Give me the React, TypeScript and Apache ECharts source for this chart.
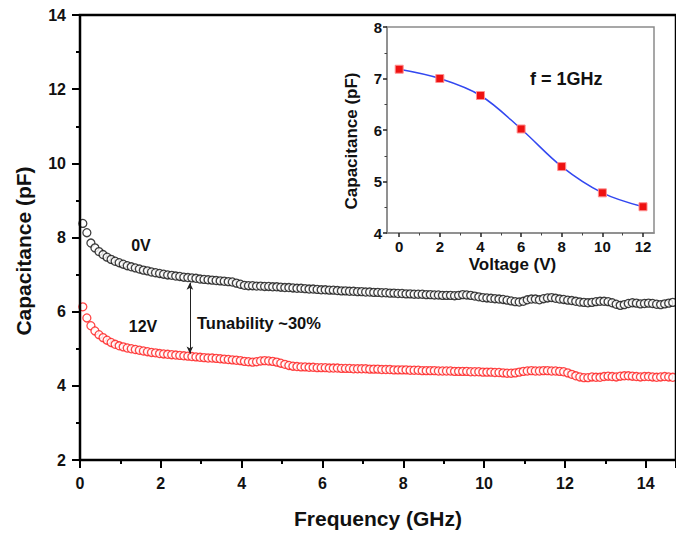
import React, { useEffect, useRef } from 'react';
import * as echarts from 'echarts';

const freqGHz = [
  0.07, 0.17, 0.27, 0.37, 0.47, 0.57, 0.67, 0.77, 0.87, 0.97,
  1.07, 1.17, 1.27, 1.37, 1.47, 1.57, 1.67, 1.77, 1.87, 1.97,
  2.07, 2.17, 2.27, 2.37, 2.47, 2.57, 2.67, 2.77, 2.87, 2.97,
  3.07, 3.17, 3.27, 3.37, 3.47, 3.57, 3.67, 3.77, 3.87, 3.97,
  4.07, 4.17, 4.27, 4.37, 4.47, 4.57, 4.67, 4.77, 4.87, 4.97,
  5.07, 5.17, 5.27, 5.37, 5.47, 5.57, 5.67, 5.77, 5.87, 5.97,
  6.07, 6.17, 6.27, 6.37, 6.47, 6.57, 6.67, 6.77, 6.87, 6.97,
  7.07, 7.17, 7.27, 7.37, 7.47, 7.57, 7.67, 7.77, 7.87, 7.97,
  8.07, 8.17, 8.27, 8.37, 8.47, 8.57, 8.67, 8.77, 8.87, 8.97,
  9.07, 9.17, 9.27, 9.37, 9.47, 9.57, 9.67, 9.77, 9.87, 9.97,
  10.07, 10.17, 10.27, 10.37, 10.47, 10.57, 10.67, 10.77, 10.87, 10.97,
  11.07, 11.17, 11.27, 11.37, 11.47, 11.57, 11.67, 11.77, 11.87, 11.97,
  12.07, 12.17, 12.27, 12.37, 12.47, 12.57, 12.67, 12.77, 12.87, 12.97,
  13.07, 13.17, 13.27, 13.37, 13.47, 13.57, 13.67, 13.77, 13.87, 13.97,
  14.07, 14.17, 14.27, 14.37, 14.47, 14.57, 14.67, 14.77,
];

const cap0V = [
  8.38, 8.13, 7.85, 7.72, 7.62, 7.54, 7.47, 7.41, 7.36, 7.32,
  7.28, 7.24, 7.21, 7.18, 7.15, 7.12, 7.10, 7.07, 7.05, 7.03,
  7.01, 6.99, 6.98, 6.96, 6.95, 6.93, 6.92, 6.91, 6.90, 6.88,
  6.87, 6.86, 6.85, 6.84, 6.83, 6.82, 6.81, 6.80, 6.77, 6.74,
  6.71, 6.70, 6.70, 6.69, 6.69, 6.68, 6.68, 6.67, 6.67, 6.66,
  6.65, 6.65, 6.64, 6.63, 6.63, 6.62, 6.61, 6.61, 6.60, 6.59,
  6.59, 6.58, 6.58, 6.57, 6.56, 6.56, 6.55, 6.55, 6.54, 6.54,
  6.53, 6.53, 6.52, 6.52, 6.51, 6.51, 6.50, 6.50, 6.49, 6.49,
  6.48, 6.48, 6.47, 6.47, 6.47, 6.46, 6.46, 6.45, 6.45, 6.44,
  6.44, 6.44, 6.43, 6.44, 6.46, 6.45, 6.44, 6.42, 6.40, 6.38,
  6.37, 6.36, 6.35, 6.34, 6.33, 6.31, 6.29, 6.27, 6.26, 6.28,
  6.32, 6.34, 6.34, 6.32, 6.35, 6.37, 6.38, 6.36, 6.34, 6.33,
  6.31, 6.30, 6.28, 6.26, 6.25, 6.24, 6.25, 6.27, 6.28, 6.28,
  6.27, 6.24, 6.20, 6.17, 6.19, 6.22, 6.24, 6.23, 6.21, 6.22,
  6.23, 6.22, 6.20, 6.19, 6.21, 6.23, 6.25, 6.24,
];

const cap12V = [
  6.13, 5.83, 5.62, 5.48, 5.38, 5.30, 5.23, 5.17, 5.12, 5.08,
  5.05, 5.02, 5.00, 4.98, 4.96, 4.94, 4.92, 4.90, 4.89, 4.87,
  4.86, 4.85, 4.84, 4.83, 4.82, 4.81, 4.80, 4.79, 4.78, 4.77,
  4.76, 4.75, 4.75, 4.74, 4.73, 4.72, 4.71, 4.70, 4.69, 4.68,
  4.66, 4.65, 4.64, 4.65, 4.67, 4.68, 4.67, 4.66, 4.64, 4.61,
  4.58, 4.55, 4.53, 4.52, 4.51, 4.51, 4.50, 4.50, 4.49, 4.49,
  4.49, 4.48, 4.48, 4.48, 4.47, 4.47, 4.47, 4.46, 4.46, 4.46,
  4.46, 4.45, 4.45, 4.45, 4.44, 4.44, 4.44, 4.43, 4.43, 4.43,
  4.43, 4.42, 4.42, 4.42, 4.41, 4.41, 4.41, 4.41, 4.40, 4.40,
  4.40, 4.40, 4.39, 4.39, 4.39, 4.39, 4.38, 4.38, 4.38, 4.37,
  4.37, 4.37, 4.36, 4.36, 4.35, 4.34, 4.34, 4.35, 4.37, 4.39,
  4.40, 4.41, 4.40, 4.40, 4.41, 4.41, 4.40, 4.40, 4.39, 4.38,
  4.35, 4.31, 4.27, 4.24, 4.22, 4.22, 4.24, 4.23, 4.23, 4.25,
  4.26, 4.25, 4.24, 4.26, 4.27, 4.27, 4.26, 4.25, 4.24, 4.25,
  4.25, 4.24, 4.23, 4.24, 4.25, 4.24, 4.23, 4.24,
];

const voltages = [0, 2, 4, 6, 8, 10, 12];
const capAt1GHz = [7.18, 7.0, 6.67, 6.02, 5.29, 4.78, 4.51];
const insetMinorX = [1, 3, 5, 7, 9, 11];
const mainMinorY = [3, 5, 7, 9, 11, 13];
const arrowFreq = 2.72;
const arrowTop = 6.78;
const arrowBottom = 4.87;

const FONT = '"Liberation Sans", Arial, Helvetica, sans-serif';
const INK = '#111111';
const FRAME = '#8a8a8a';

export default function App() {
  const ref = useRef<HTMLDivElement>(null);

  useEffect(() => {
    if (!ref.current) return;
    const chart = echarts.init(ref.current, null, { renderer: 'svg' });

    const label = (size: number, extra: any = {}) => ({
      fontFamily: FONT,
      fontWeight: 'bold',
      fontSize: size,
      color: INK,
      ...extra,
    });

    const insetRect = { left: 387, right: 22, top: 27, bottom: 302 };
    const mainRect = { left: 80, right: 0, top: 15, bottom: 75 };
    const tickStyle = { color: '#000', width: 2, opacity: 1 };

    const option: any = {
      animation: false,
      backgroundColor: '#ffffff',
      grid: [
        { ...mainRect, containLabel: false },
        {
          ...insetRect,
          show: true,
          backgroundColor: '#ffffff',
          borderColor: FRAME,
          borderWidth: 1.5,
          z: 5,
        },
        { ...insetRect, show: false },
        { left: 80, right: -20, top: 15, bottom: 75, show: true, borderColor: '#000', borderWidth: 2.5, backgroundColor: 'transparent', z: 9 },
      ],
      xAxis: [
        {
          gridIndex: 0,
          type: 'value',
          min: 0,
          max: 14.75,
          interval: 2,
          position: 'bottom',
          name: 'Frequency (GHz)',
          nameLocation: 'middle',
          nameGap: 48,
          nameTextStyle: label(21),
          axisLine: { show: false, onZero: false },
          axisTick: { show: true, length: 8, lineStyle: tickStyle },
          minorTick: { show: true, splitNumber: 2, length: 4, lineStyle: tickStyle },
          axisLabel: { ...label(16), margin: 15, showMaxLabel: false },
          splitLine: { show: false },
          minorSplitLine: { show: false },
        },
        {
          gridIndex: 1,
          type: 'value',
          min: -0.6,
          max: 12.54,
          position: 'bottom',
          name: 'Voltage (V)',
          nameLocation: 'middle',
          nameGap: 23,
          nameTextStyle: { ...label(17), padding: [0, 16, 0, 0] },
          axisLine: { show: true, onZero: false, lineStyle: { color: FRAME, width: 1.5 } },
          axisTick: { show: true, length: 4, customValues: voltages, lineStyle: { color: '#222', width: 1.5 } },
          axisLabel: { ...label(15), margin: 6, customValues: voltages },
          splitLine: { show: false },
          z: 6,
        },
        {
          gridIndex: 2,
          type: 'value',
          min: -0.6,
          max: 12.54,
          position: 'bottom',
          axisLine: { show: false },
          axisTick: { show: true, length: 2.5, customValues: insetMinorX, lineStyle: { color: '#444', width: 1 } },
          axisLabel: { show: false },
          splitLine: { show: false },
          z: 7,
        },
        {
          gridIndex: 3,
          type: 'value',
          min: 0,
          max: 15,
          show: false,
        },
      ],
      yAxis: [
        {
          gridIndex: 0,
          type: 'value',
          min: 2,
          max: 14,
          interval: 2,
          axisLine: { show: false, onZero: false },
          axisTick: { show: true, length: 8, lineStyle: tickStyle },
          axisLabel: { ...label(16), margin: 14 },
          splitLine: { show: false },
        },
        {
          gridIndex: 1,
          type: 'value',
          min: 4,
          max: 8,
          interval: 1,
          axisLine: { show: true, onZero: false, lineStyle: { color: FRAME, width: 1.5 } },
          axisTick: { show: true, length: 4, lineStyle: { color: '#222', width: 1.5 } },
          minorTick: { show: true, splitNumber: 2, length: 2.5, lineStyle: { color: '#444', width: 1 } },
          axisLabel: { ...label(15), margin: 5 },
          splitLine: { show: false },
          minorSplitLine: { show: false },
          z: 6,
        },
        {
          gridIndex: 2,
          type: 'value',
          min: 4,
          max: 8,
          show: false,
        },
        {
          gridIndex: 3,
          type: 'value',
          min: 2,
          max: 14,
          position: 'left',
          axisLine: { show: false },
          axisTick: { show: true, length: 4, customValues: mainMinorY, lineStyle: tickStyle },
          axisLabel: { show: false },
          splitLine: { show: false },
        },
      ],
      series: [
        {
          name: '0V',
          type: 'scatter',
          xAxisIndex: 0,
          yAxisIndex: 0,
          symbol: 'circle',
          symbolSize: 8,
          itemStyle: { color: '#ffffff', borderColor: '#111111', borderWidth: 1.3 },
          data: freqGHz.map((f, i) => [f, cap0V[i]]),
          markLine: {
            silent: true,
            symbol: ['arrow', 'arrow'],
            symbolSize: [5, 7],
            label: { show: false },
            lineStyle: { color: '#222', width: 1, type: 'solid' },
            data: [[{ coord: [arrowFreq, arrowTop] }, { coord: [arrowFreq, arrowBottom] }]],
          },
        },
        {
          name: '12V',
          type: 'scatter',
          xAxisIndex: 0,
          yAxisIndex: 0,
          symbol: 'circle',
          symbolSize: 8,
          itemStyle: { color: '#ffffff', borderColor: '#ff1a1a', borderWidth: 1.3 },
          data: freqGHz.map((f, i) => [f, cap12V[i]]),
        },
        {
          name: 'f = 1GHz',
          type: 'line',
          xAxisIndex: 1,
          yAxisIndex: 1,
          smooth: 0.35,
          symbol: 'rect',
          symbolSize: 8,
          showSymbol: true,
          z: 8,
          lineStyle: { color: '#3348f0', width: 1.5 },
          itemStyle: { color: '#ee1111', borderColor: '#ff9090', borderWidth: 1 },
          data: voltages.map((v, i) => [v, capAt1GHz[i]]),
        },
      ],
      graphic: [
        {
          type: 'text',
          x: 23,
          y: 251,
          rotation: Math.PI / 2,
          style: { text: 'Capacitance (pF)', ...label(21), fill: INK, align: 'center', verticalAlign: 'middle' },
        },
        {
          type: 'text',
          x: 351,
          y: 141,
          rotation: Math.PI / 2,
          z: 10,
          style: { text: 'Capacitance (pF)', ...label(17), fill: INK, align: 'center', verticalAlign: 'middle' },
        },
        {
          type: 'text',
          x: 141,
          y: 245,
          style: { text: '0V', ...label(16), fill: INK, align: 'center', verticalAlign: 'middle' },
        },
        {
          type: 'text',
          x: 143,
          y: 326,
          style: { text: '12V', ...label(16), fill: INK, align: 'center', verticalAlign: 'middle' },
        },
        {
          type: 'text',
          x: 197,
          y: 322.5,
          style: { text: 'Tunability ~30%', ...label(16.5), fill: INK, align: 'left', verticalAlign: 'middle' },
        },
        {
          type: 'text',
          x: 530,
          y: 78.5,
          z: 10,
          style: { text: 'f = 1GHz', ...label(18), fill: INK, align: 'left', verticalAlign: 'middle' },
        },
      ],
    };

    chart.setOption(option);
    return () => chart.dispose();
  }, []);

  return (
    <div
      ref={ref}
      style={{ position: 'fixed', left: 0, top: 0, width: 676, height: 535, background: '#fff' }}
    />
  );
}
